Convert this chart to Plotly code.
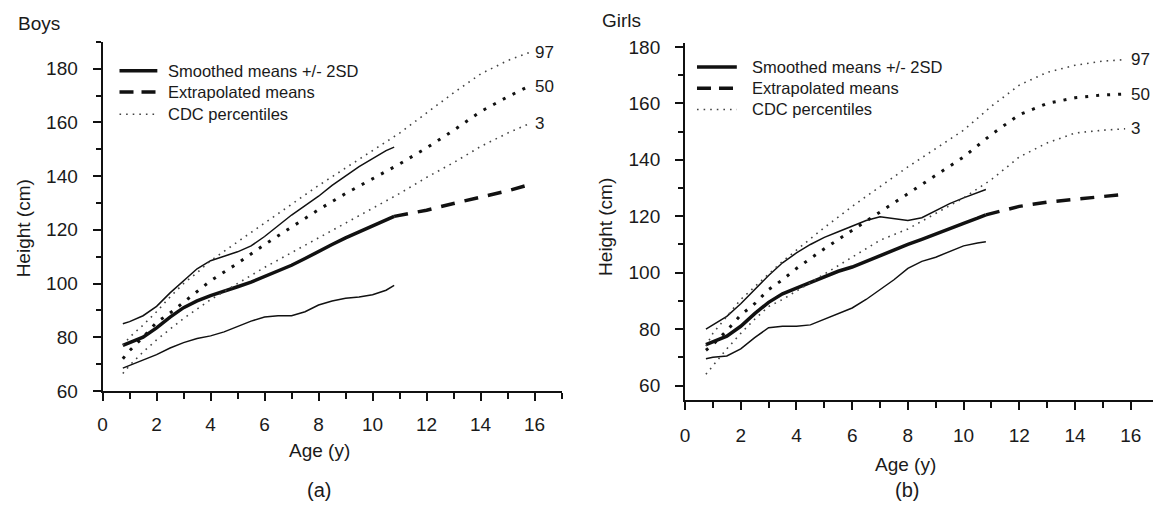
import plotly.graph_objects as go

# ---------------- data ----------------
age_sm = [0.75, 1.0, 1.5, 2.0, 2.5, 3.0, 3.5, 4.0, 4.5, 5.0, 5.5, 6.0, 6.5, 7.0, 7.5, 8.0, 8.5, 9.0, 9.5, 10.0, 10.5, 10.8]
boys_mean = [77, 78, 80, 83.5, 87.5, 91, 93.5, 95.5, 97.3, 98.8, 100.5, 102.5, 104.5, 106.8, 109.3, 112, 114.5, 117, 119.3, 121.5, 123.8, 125]
boys_upper = [85, 85.8, 88, 91.5, 96.5, 101, 105.5, 108.5, 110.2, 111.8, 114, 117.5, 121.5, 125.5, 129, 132.5, 136.5, 140, 143.5, 146.5, 149.5, 150.8]
boys_lower = [68.5, 69.5, 71.5, 73.5, 76, 78, 79.5, 80.5, 82, 84, 86, 87.5, 88, 88, 89.5, 92, 93.5, 94.5, 95, 95.8, 97.5, 99.3]

girls_mean = [74.5, 75.5, 77.5, 81, 85.5, 89.5, 92.5, 94.5, 96.5, 98.5, 100.5, 102, 104, 106.3, 108, 110, 111.8, 113.8, 115.8, 117.5, 119.3, 120.5]
girls_upper = [80, 81.5, 84.5, 89, 94, 99, 103.5, 107, 110, 112.5, 114.5, 116.5, 118.5, 119.8, 119.2, 118.5, 119.5, 122, 124.5, 126.5, 128.5, 129.5]
girls_lower = [69.5, 70, 70.5, 73, 77, 80.5, 81, 81, 81.5, 83.5, 85.5, 87.5, 90.5, 94, 97.5, 101.5, 104, 105.5, 107.5, 109.5, 110.5, 111]

age_ex = [10.8, 12, 13, 14, 15, 15.8]
boys_extrap = [125, 127.3, 129.8, 132.2, 134.5, 136.8]
girls_extrap = [120.5, 123.5, 125, 126, 127, 127.8]

age_cdc = [0.75, 1, 1.5, 2, 2.5, 3, 3.5, 4, 5, 6, 7, 8, 9, 10, 11, 12, 13, 14, 15, 15.8]
boys_p97 = [77, 80, 84.5, 89.5, 95, 100, 104, 108.5, 115.5, 122.5, 129.5, 136.5, 143, 149.5, 156, 163.5, 171, 178, 183, 186]
boys_p50 = [72, 75, 80, 85.5, 89, 93, 97, 101, 107.5, 114.5, 121, 127.5, 133.5, 139, 144.5, 150.5, 157, 164, 169.5, 173.5]
boys_p3 = [66.5, 69.5, 74.5, 79, 83, 87, 90.5, 94, 100, 106, 111.5, 117, 122.5, 128, 133.5, 139.5, 145, 151, 156, 159.5]

girls_p97 = [74, 78.5, 84.5, 90.5, 95, 99.5, 104, 108, 116, 123.5, 130.5, 137.5, 144, 150.5, 159, 166.5, 171, 173.5, 175, 175.5]
girls_p50 = [72.5, 74.5, 79.5, 85, 89, 94, 97.5, 101.5, 108.5, 115, 121.5, 128, 134.5, 141, 149, 156, 160, 162, 163, 163.3]
girls_p3 = [64, 67, 73, 78.5, 83.5, 88, 90.5, 93.5, 99.5, 105.5, 111.5, 115.5, 121, 126.5, 133, 141, 146, 149.5, 150.5, 151]

pct_labels = ["97", "50", "3"]
legend_labels = ["Smoothed means +/- 2SD", "Extrapolated means", "CDC percentiles"]

W, H = 1155, 518
FONT = "Liberation Sans, Arial, sans-serif"
INK = "#111111"
TXT = "#1a1a1a"

def px(x):
    return x / W

def py(y):
    return 1 - y / H

fig = go.Figure()

def add_panel(xa, ya, mean, upper, lower, extrap, p97, p50, p3):
    kw = dict(xaxis=xa, yaxis=ya, mode="lines", showlegend=False, hoverinfo="skip")
    fig.add_trace(go.Scatter(x=age_sm, y=upper, line=dict(color=INK, width=1.5), **kw))
    fig.add_trace(go.Scatter(x=age_sm, y=lower, line=dict(color=INK, width=1.5), **kw))
    fig.add_trace(go.Scatter(x=age_sm, y=mean, line=dict(color=INK, width=3.5), **kw))
    fig.add_trace(go.Scatter(x=age_ex, y=extrap, line=dict(color=INK, width=3.5, dash="14px,10px"), **kw))
    fig.add_trace(go.Scatter(x=age_cdc, y=p97, line=dict(color="#444444", width=1.6, dash="1.6px,5px"), **kw))
    fig.add_trace(go.Scatter(x=age_cdc, y=p50, line=dict(color=INK, width=3, dash="3px,8px"), **kw))
    fig.add_trace(go.Scatter(x=age_cdc, y=p3, line=dict(color="#444444", width=1.6, dash="1.6px,5px"), **kw))

add_panel("x", "y", boys_mean, boys_upper, boys_lower, boys_extrap, boys_p97, boys_p50, boys_p3)
add_panel("x2", "y2", girls_mean, girls_upper, girls_lower, girls_extrap, girls_p97, girls_p50, girls_p3)

axis_common = dict(
    showline=True, linecolor=INK, linewidth=2, ticks="outside", tickcolor=INK,
    tickwidth=2, ticklen=8, showgrid=False, zeroline=False,
    tickfont=dict(family=FONT, size=19, color=TXT),
    fixedrange=True,
)
xminor = dict(dtick=1, tick0=0, ticks="outside", ticklen=6, tickwidth=1.5, tickcolor=INK)
yminor = dict(dtick=10, tick0=60, ticks="outside", ticklen=5, tickwidth=1.5, tickcolor=INK)

fig.update_layout(
    width=W, height=H, autosize=False,
    margin=dict(l=0, r=0, t=0, b=0),
    paper_bgcolor="white", plot_bgcolor="white",
    showlegend=False,
    xaxis=dict(domain=[px(98), px(559)], range=[0, 17], anchor="y",
               tickmode="array", tickvals=list(range(0, 17, 2)),
               minor=xminor, ticklabelstandoff=7, **axis_common),
    yaxis=dict(domain=[py(398), py(37)], range=[60, 190], anchor="x",
               tickmode="array", tickvals=list(range(60, 181, 20)),
               minor=yminor, ticklabelstandoff=11, **axis_common),
    xaxis2=dict(domain=[px(683), px(1153)], range=[0, 16.8], anchor="y2",
                tickmode="array", tickvals=list(range(0, 17, 2)),
                minor=xminor, ticklabelstandoff=10, **axis_common),
    yaxis2=dict(domain=[py(407), py(38)], range=[55, 181.5], anchor="x2",
                tickmode="array", tickvals=list(range(60, 181, 20)),
                minor=yminor, ticklabelstandoff=11, **axis_common),
)

ann = []
def text(x, y, s, size, xanchor="center", yanchor="middle", angle=0):
    ann.append(dict(x=px(x), y=py(y), xref="paper", yref="paper", text=s, showarrow=False,
                    xanchor=xanchor, yanchor=yanchor, textangle=angle,
                    font=dict(family=FONT, size=size, color=TXT)))

# panel titles, axis titles, captions
text(11, 18, "Boys", 19, xanchor="left")
text(598, 15, "Girls", 19, xanchor="left")
text(19, 230, "Height (cm)", 19, angle=-90)
text(603, 228, "Height (cm)", 19, angle=-90)
text(316, 460, "Age (y)", 19)
text(904, 474, "Age (y)", 19)
text(315, 500, "(a)", 20)
text(906, 500, "(b)", 20)

# percentile labels placed at the end of each CDC series
for xa, ya, series in (("x", "y", (boys_p97, boys_p50, boys_p3)), ("x2", "y2", (girls_p97, girls_p50, girls_p3))):
    for lab, s in zip(pct_labels, series):
        ann.append(dict(x=age_cdc[-1] + 0.15, y=s[-1], xref=xa, yref=ya, text=lab, showarrow=False,
                        xanchor="left", yanchor="middle",
                        font=dict(family=FONT, size=17, color=TXT)))

# legend keys
shapes = []
def legend(x0, x1, xt, rows):
    styles = [dict(color=INK, width=3.5),
              dict(color=INK, width=3.5, dash="14px,8px"),
              dict(color="#444444", width=1.6, dash="1.6px,5px")]
    for lab, st, yy in zip(legend_labels, styles, rows):
        shapes.append(dict(type="line", xref="paper", yref="paper", x0=px(x0), x1=px(x1),
                           y0=py(yy), y1=py(yy), line=st))
        text(xt, yy, lab, 16.5, xanchor="left")

legend(115, 153, 162, [67, 89, 112])
legend(695, 735, 748, [63, 85, 107])

fig.update_layout(annotations=ann, shapes=shapes)
fig.write_html("out.html")
